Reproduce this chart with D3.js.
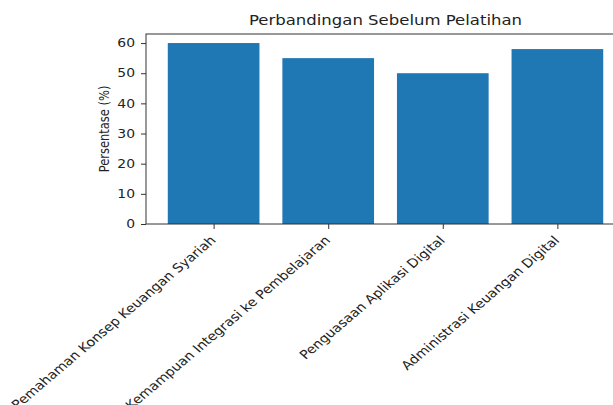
<html>
<script src="https://d3js.org/d3.v7.min.js"></script>
<style>
  body { margin: 0; background: #fff; }
  text { font-family: "DejaVu Sans", sans-serif; fill: #222; }
</style>
<body>
<svg width="613" height="405"></svg>
<script>
var categories = ["Pemahaman Konsep Keuangan Syariah", "Kemampuan Integrasi ke Pembelajaran",
                  "Penguasaan Aplikasi Digital", "Administrasi Keuangan Digital"];
var values = [60, 55, 50, 58];
var yTicks = [0, 10, 20, 30, 40, 50, 60];

var svg = d3.select("svg");
var m = {left: 146, right: 625, top: 34, bottom: 224};
var sx = 1.18; // the picture is stretched sideways a little

// matplotlib style: bars at integer positions, width 0.8, margins 0.05
var x = d3.scaleLinear().domain([-0.59, 3.59]).range([m.left, m.right]);
var y = d3.scaleLinear().domain([0, 63]).range([m.bottom, m.top]);

svg.append("g").selectAll("rect")
  .data(values)
  .enter().append("rect")
    .attr("x", function(d, i) { return x(i - 0.4); })
    .attr("width", function(d, i) { return x(i + 0.4) - x(i - 0.4); })
    .attr("y", function(d) { return y(d); })
    .attr("height", function(d) { return y(0) - y(d); })
    .attr("fill", "#1f77b4");

// frame
svg.append("rect")
  .attr("x", m.left).attr("y", m.top)
  .attr("width", m.right - m.left).attr("height", m.bottom - m.top)
  .attr("fill", "none").attr("stroke", "#333").attr("stroke-width", 1);

// y axis
var yAxis = svg.append("g")
  .attr("transform", "translate(" + m.left + ",0)")
  .call(d3.axisLeft(y).tickValues(yTicks).tickSize(5));
yAxis.select(".domain").remove();
yAxis.selectAll("line").attr("stroke", "#333");
yAxis.selectAll("text")
  .attr("x", null)
  .attr("transform", "translate(-11,0) scale(" + sx + ",1)")
  .style("font-size", "11.8px").style("font-family", "DejaVu Sans").attr("fill", "#222");

// x axis
var xAxis = svg.append("g")
  .attr("transform", "translate(0," + m.bottom + ")")
  .call(d3.axisBottom(x).tickValues([0, 1, 2, 3]).tickSize(5).tickFormat(""));
xAxis.select(".domain").remove();
xAxis.selectAll("line").attr("stroke", "#333");

svg.append("g").selectAll("text")
  .data(categories)
  .enter().append("text")
    .attr("transform", function(d, i) {
      return "translate(" + (x(i) + 3) + "," + (m.bottom + 17) + ") scale(" + sx + ",1) rotate(-45)";
    })
    .attr("text-anchor", "end")
    .style("font-size", "12.2px")
    .text(function(d) { return d; });

// title
svg.append("text")
  .attr("transform", "translate(" + (m.left + m.right) / 2 + ",25) scale(" + sx + ",1)")
  .attr("text-anchor", "middle")
  .style("font-size", "14px")
  .text("Perbandingan Sebelum Pelatihan");

// y label
svg.append("text")
  .attr("transform", "translate(109," + (m.top + m.bottom) / 2 + ") scale(" + sx + ",1) rotate(-90)")
  .attr("text-anchor", "middle")
  .style("font-size", "11.5px")
  .text("Persentase (%)");
</script>
</body>
</html>
